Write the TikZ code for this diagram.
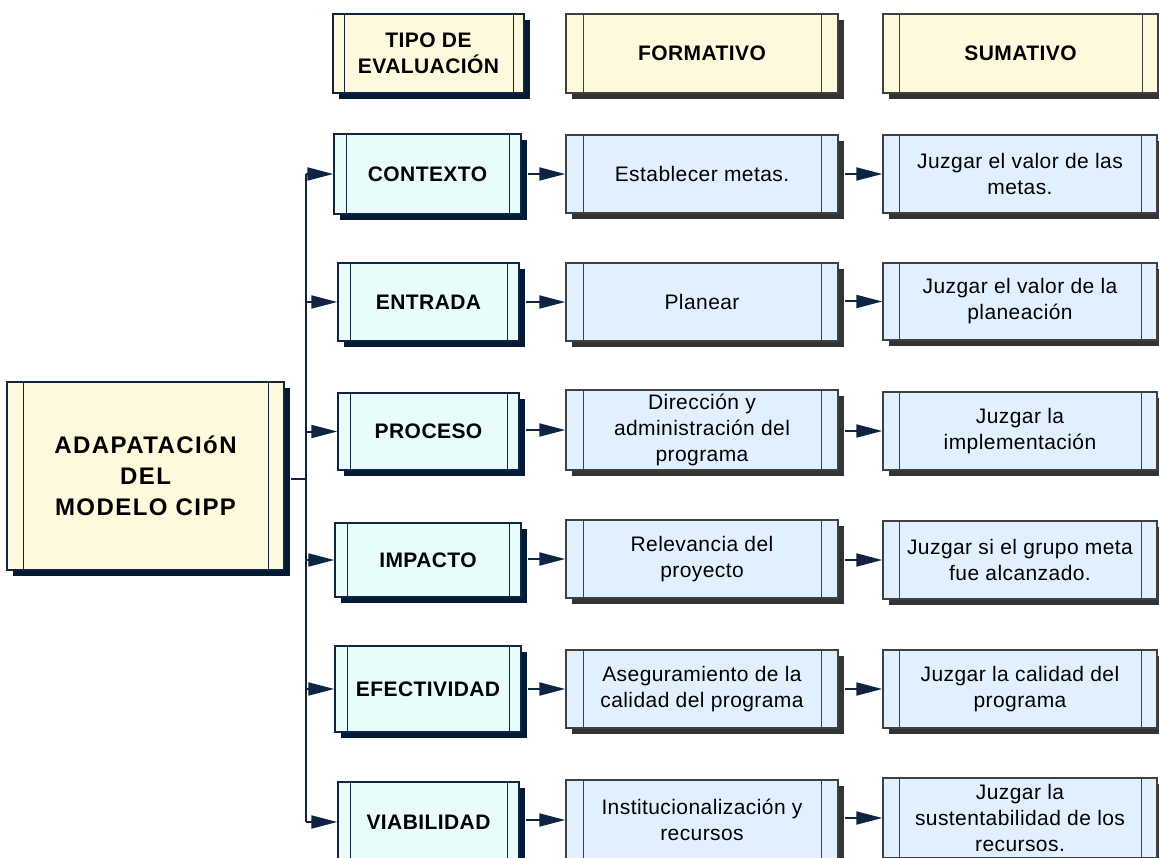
\documentclass[tikz,border=0pt]{standalone}
\usepackage{fontspec}
\setmainfont{Liberation Sans}
\usetikzlibrary{arrows.meta,shadows}
\definecolor{navyline}{HTML}{0E2440}
\definecolor{navyshadow}{HTML}{021A33}
\definecolor{greyline}{HTML}{404040}
\definecolor{greyshadow}{HTML}{333333}
\definecolor{cream}{HTML}{FEF8DC}
\definecolor{cyanfill}{HTML}{E8FCFC}
\definecolor{bluefill}{HTML}{E1F0FE}
\tikzset{
  box/.style={rectangle, line width=1.5pt, inner sep=0pt, align=center, text=black},
  navybox/.style={box, draw=navyline, drop shadow={shadow xshift=6pt, shadow yshift=-6pt, fill=navyshadow, opacity=1}},
  greybox/.style={box, draw=greyline, drop shadow={shadow xshift=6pt, shadow yshift=-6pt, fill=greyshadow, opacity=1}},
  sides/.style={path picture={
      \draw[line width=1pt, draw=#1]
        ([xshift=\sidew]path picture bounding box.south west) -- ([xshift=\sidew]path picture bounding box.north west)
        ([xshift=-\sidew]path picture bounding box.south east) -- ([xshift=-\sidew]path picture bounding box.north east);}},
  bfont/.style={font=\fontsize{21}{26}\selectfont\bfseries\addfontfeature{LetterSpace=2}},
  rfont/.style={font=\fontsize{21}{26}\selectfont\addfontfeature{LetterSpace=2}},
  header/.style={fill=cream, bfont},
  rowbox/.style={navybox, fill=cyanfill, bfont, sides=navyline},
  fbox/.style={greybox, fill=bluefill, rfont, sides=greyline},
  conn/.style={draw=navyline, line width=2pt},
  arr/.style={conn, -{Triangle[length=26pt,width=13pt]}},
}
\newlength{\sidew}
\begin{document}
\begin{tikzpicture}[x=1pt,y=-1pt]
\useasboundingbox (0,0) rectangle (1159,858);
\clip (0,0) rectangle (1159,858);
\fill[white] (0,0) rectangle (1159,858);
% headers
\setlength{\sidew}{11pt}
\node[navybox, header, sides=navyline, minimum width=191pt, minimum height=79pt] (htipo) at (428.5,53.5) {TIPO DE\\EVALUACIÓN};
\setlength{\sidew}{17pt}
\node[greybox, header, sides=greyline, minimum width=272pt, minimum height=79pt] (hform) at (702,53.5) {FORMATIVO};
\setlength{\sidew}{16pt}
\node[greybox, header, sides=greyline, minimum width=275pt, minimum height=79pt] (hsum) at (1020.5,53.5) {SUMATIVO};
% main box
\node[navybox, fill=cream, sides=navyline, minimum width=277pt, minimum height=188pt, font=\fontsize{24}{31}\selectfont\bfseries\addfontfeature{LetterSpace=6}] (main) at (145.5,476) {ADAPATACIóN\\DEL\\MODELO CIPP};
% column 1
\setlength{\sidew}{12pt}
\node[rowbox, minimum width=187pt, minimum height=80pt] (c1) at (427.5,174) {CONTEXTO};
\node[rowbox, minimum width=181pt, minimum height=78pt] (c2) at (428.5,302) {ENTRADA};
\node[rowbox, minimum width=181pt, minimum height=77pt] (c3) at (428.5,431.5) {PROCESO};
\node[rowbox, minimum width=186pt, minimum height=74pt] (c4) at (428,560) {IMPACTO};
\node[rowbox, minimum width=186pt, minimum height=86pt] (c5) at (428,689) {EFECTIVIDAD};
\node[rowbox, minimum width=181pt, minimum height=80pt] (c6) at (428.5,822) {VIABILIDAD};
% formative column
\setlength{\sidew}{17pt}
\node[fbox, minimum width=272pt, minimum height=78pt] (f1) at (702,174) {Establecer metas.};
\node[fbox, minimum width=272pt, minimum height=78pt] (f2) at (702,302) {Planear};
\node[fbox, minimum width=272pt, minimum height=80pt] (f3) at (702,430) {Dirección y\\administración del\\programa};
\node[fbox, minimum width=272pt, minimum height=78pt] (f4) at (702,559) {Relevancia del\\proyecto};
\node[fbox, minimum width=272pt, minimum height=78pt] (f5) at (702,689) {Aseguramiento de la\\calidad del programa};
\node[fbox, minimum width=272pt, minimum height=80pt] (f6) at (702,820) {Institucionalización y\\recursos};
% summative column
\setlength{\sidew}{16pt}
\node[fbox, minimum width=274pt, minimum height=78pt] (s1) at (1020,174) {Juzgar el valor de las\\metas.};
\node[fbox, minimum width=274pt, minimum height=77pt] (s2) at (1020,301.5) {Juzgar el valor de la\\planeación};
\node[fbox, minimum width=274pt, minimum height=78pt] (s3) at (1020,431) {Juzgar la\\implementación};
\node[fbox, minimum width=274pt, minimum height=78pt] (s4) at (1020,560) {Juzgar si el grupo meta\\fue alcanzado.};
\node[fbox, minimum width=274pt, minimum height=78pt] (s5) at (1020,689) {Juzgar la calidad del\\programa};
\node[fbox, minimum width=274pt, minimum height=80pt] (s6) at (1020,818) {Juzgar la\\sustentabilidad de los\\recursos.};
% connectors
\coordinate (trunk) at (306,479);
\draw[conn] ([xshift=6pt]main.east |- trunk) -- (trunk);
\draw[conn] (c1.west -| trunk) -- (c6.west -| trunk);
\foreach \i in {1,...,6}{
  \draw[arr] (c\i.west -| trunk) -- (c\i.west);
  \draw[arr] ([xshift=6pt]c\i.east |- f\i.west) -- (f\i.west);
  \draw[arr] ([xshift=6pt]f\i.east |- s\i.west) -- (s\i.west);
}
\end{tikzpicture}
\end{document}
